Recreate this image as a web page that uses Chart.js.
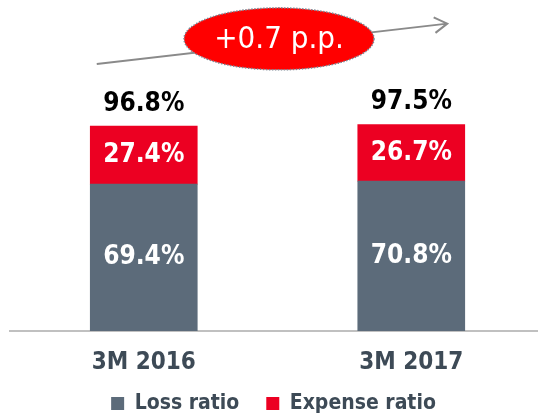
<!DOCTYPE html>
<html>
<head>
<meta charset="utf-8">
<script src="https://cdn.jsdelivr.net/npm/chart.js@4.4.1/dist/chart.umd.min.js"></script>
<style>
    body { margin: 0; background: #fff; }
    #wrap { width: 538px; height: 418px; position: relative; }
</style>
</head>
<body>
<div id="wrap"><canvas id="ratioChart"></canvas></div>
<script>
// data
const periods = ['3M 2016', '3M 2017'];
const lossRatio = [69.4, 70.8];
const expenseRatio = [27.4, 26.7];

const FONT = "'DejaVu Sans Condensed', 'DejaVu Sans', sans-serif";
const GREY = '#5c6b7a';
const RED = '#ec0022';
const TEXT = '#3d4a56';

const totals = periods.map((p, i) => lossRatio[i] + expenseRatio[i]);

// value labels inside the segments and totals above the bars
const barLabels = {
    id: 'barLabels',
    afterDatasetsDraw(chart) {
        const ctx = chart.ctx;
        ctx.save();
        ctx.textAlign = 'center';
        ctx.textBaseline = 'middle';
        ctx.font = 'bold 26px ' + FONT;
        ctx.fillStyle = '#fff';
        chart.data.datasets.forEach((ds, di) => {
            chart.getDatasetMeta(di).data.forEach((bar, i) => {
                const v = ds.data[i].y;
                ctx.fillText(v.toFixed(1) + '%', bar.x, (bar.y + bar.base) / 2);
            });
        });
        const top = chart.getDatasetMeta(chart.data.datasets.length - 1).data;
        ctx.fillStyle = '#000';
        top.forEach((bar, i) => {
            ctx.fillText(totals[i].toFixed(1) + '%', bar.x, bar.y - 22);
        });
        ctx.restore();
    }
};

// trend arrow with the change bubble
const trendBubble = {
    id: 'trendBubble',
    afterDraw(chart) {
        const ctx = chart.ctx;
        const xs = chart.scales.x, ys = chart.scales.y;
        const x0 = xs.getPixelForValue(0), x1 = xs.getPixelForValue(1);
        const sx = x0 - 47, sy = ys.getPixelForValue(totals[0]) - 62;
        const ex = x1 + 36, ey = ys.getPixelForValue(totals[1]) - 101;
        const ang = Math.atan2(ey - sy, ex - sx);

        ctx.save();
        ctx.strokeStyle = '#8a8a8a';
        ctx.lineWidth = 2;
        ctx.beginPath();
        ctx.moveTo(sx, sy);
        ctx.lineTo(ex, ey);
        ctx.moveTo(ex - 15 * Math.cos(ang - 0.55), ey - 15 * Math.sin(ang - 0.55));
        ctx.lineTo(ex, ey);
        ctx.lineTo(ex - 15 * Math.cos(ang + 0.55), ey - 15 * Math.sin(ang + 0.55));
        ctx.stroke();

        const cx = (sx + ex) / 2 + 7, cy = (sy + ey) / 2 - 5;
        ctx.beginPath();
        ctx.ellipse(cx, cy, 95, 31, 0, 0, Math.PI * 2);
        ctx.fillStyle = '#ff0000';
        ctx.fill();
        ctx.setLineDash([1.5, 1.5]);
        ctx.lineWidth = 1.5;
        ctx.strokeStyle = '#7a8794';
        ctx.stroke();

        const diff = totals[1] - totals[0];
        ctx.fillStyle = '#fff';
        ctx.font = '31px ' + FONT;
        ctx.textAlign = 'center';
        ctx.textBaseline = 'middle';
        ctx.fillText((diff >= 0 ? '+' : '') + diff.toFixed(1) + ' p.p.', cx, cy + 1);
        ctx.restore();
    }
};

const ctx = document.getElementById('ratioChart').getContext('2d');
new Chart(ctx, {
    type: 'bar',
    data: {
        datasets: [
            {
                label: 'Loss ratio',
                data: lossRatio.map((v, i) => ({ x: i, y: v })),
                backgroundColor: GREY,
                borderWidth: 0,
                barThickness: 107
            },
            {
                label: 'Expense ratio',
                data: expenseRatio.map((v, i) => ({ x: i, y: v })),
                backgroundColor: RED,
                borderWidth: 0,
                barThickness: 107
            }
        ]
    },
    options: {
        responsive: true,
        maintainAspectRatio: false,
        animation: false,
        layout: { padding: { top: 77, left: 10, right: 1, bottom: -6 } },
        scales: {
            x: {
                type: 'linear',
                stacked: true,
                offset: false,
                bounds: 'data',
                min: -0.5,
                max: 1.47,
                afterBuildTicks: (scale) => { scale.ticks = periods.map((p, i) => ({ value: i })); },
                afterFit: (scale) => { scale.height = 35; },
                grid: { display: false, drawTicks: false },
                border: { display: true, color: '#c0c0c0', width: 2 },
                ticks: {
                    // mirrored with a negative padding so the labels are not clipped to the short axis box
                    mirror: true,
                    padding: -46,
                    color: TEXT,
                    font: { family: FONT, size: 24, weight: 'bold' },
                    callback: (v) => periods[v] ?? ''
                }
            },
            y: {
                stacked: true,
                display: false,
                min: 0,
                max: 120
            }
        },
        plugins: {
            legend: {
                position: 'bottom',
                labels: {
                    boxWidth: 13,
                    boxHeight: 13,
                    padding: 27,
                    color: TEXT,
                    font: { family: FONT, size: 21, weight: 'bold' }
                }
            },
            tooltip: { enabled: false }
        }
    },
    plugins: [barLabels, trendBubble]
});
</script>
</body>
</html>
